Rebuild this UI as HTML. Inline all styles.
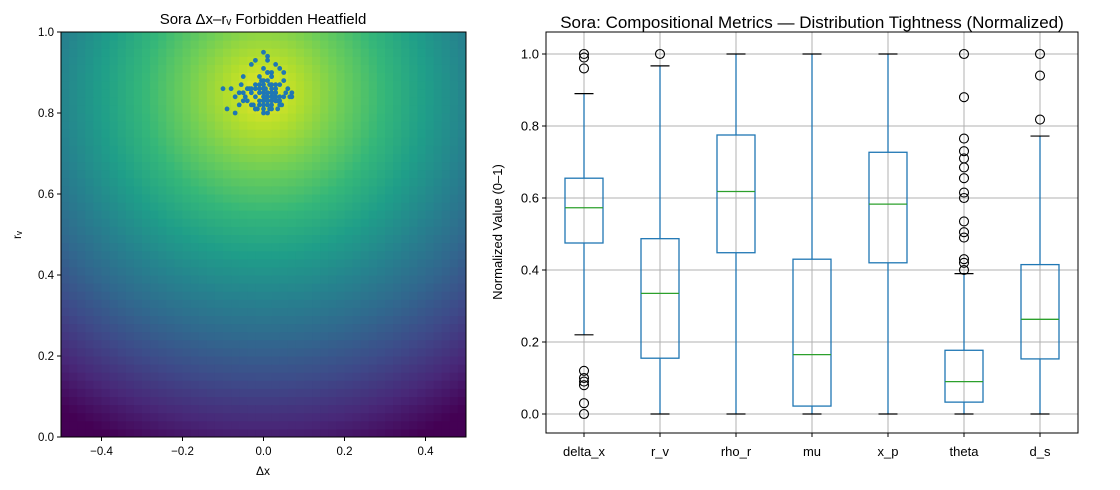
<!DOCTYPE html>
<html><head><meta charset="utf-8"><style>
body{margin:0;background:#fff}
svg{display:block;font-family:"Liberation Sans","DejaVu Sans",sans-serif}
</style></head><body>
<svg id="chart" width="1120" height="490" viewBox="0 0 1120 490" xmlns="http://www.w3.org/2000/svg">
<g id="heat"></g>
<g id="pts"></g>
<rect x="61" y="32" width="405" height="405" fill="none" stroke="#000" stroke-width="1"/>
<g id="lticks" font-size="11.5"></g>
<text x="263" y="24" text-anchor="middle" font-size="15">Sora Δx–rᵥ Forbidden Heatfield</text>
<text x="263" y="475" text-anchor="middle" font-size="12">Δx</text>
<text x="21" y="235" text-anchor="middle" font-size="12" transform="rotate(-90 21 235)">rᵥ</text>
<g id="grid"></g>
<g id="boxes"></g>
<rect x="546" y="32" width="532" height="401" fill="none" stroke="#000" stroke-width="1"/>
<g id="rticks" font-size="13"></g>
<text x="812" y="28" text-anchor="middle" font-size="17">Sora: Compositional Metrics — Distribution Tightness (Normalized)</text>
<text x="502" y="232" text-anchor="middle" font-size="13" transform="rotate(-90 502 232)">Normalized Value (0–1)</text>
</svg>
<script>
const ptsX=[0.01,-0.02,0.03,0.0,0.02,-0.01,0.04,-0.03,0.01,0.0,0.02,-0.04,0.05,-0.05,0.03,0.01,-0.02,0.0,0.02,-0.01,0.06,-0.06,0.03,-0.03,0.0,0.01,0.02,-0.02,0.04,-0.04,0.01,0.0,-0.01,0.03,0.02,-0.07,0.07,-0.08,0.05,-0.05,0.0,0.01,0.02,0.03,-0.01,-0.02,0.04,0.0,0.01,-0.03,0.02,0.03,-0.1,-0.09,0.065,0.07,-0.06,0.0,0.01,0.02,-0.015,0.035,-0.025,0.015,0.005,-0.005,0.045,-0.045,0.025,0.0,0.01,-0.01,0.02,0.03,-0.02,0.04,0.0,0.01,0.005,-0.035,0.055,-0.055,0.015,0.02,0.0,0.03,-0.01,0.01,0.04,-0.02,0.0,0.025,-0.03,0.035,0.01,-0.05,0.05,-0.07,0.0,0.02];
const ptsY=[0.94,0.93,0.92,0.91,0.90,0.89,0.91,0.92,0.88,0.87,0.87,0.86,0.88,0.85,0.86,0.85,0.86,0.84,0.84,0.83,0.86,0.85,0.83,0.82,0.82,0.82,0.81,0.81,0.82,0.83,0.80,0.81,0.85,0.85,0.83,0.84,0.84,0.86,0.9,0.89,0.95,0.93,0.89,0.84,0.87,0.84,0.83,0.86,0.85,0.86,0.85,0.87,0.86,0.81,0.84,0.85,0.82,0.83,0.84,0.82,0.81,0.81,0.82,0.87,0.86,0.88,0.82,0.84,0.84,0.88,0.90,0.86,0.89,0.85,0.87,0.87,0.80,0.83,0.84,0.86,0.85,0.87,0.81,0.86,0.85,0.83,0.82,0.9,0.84,0.81,0.83,0.84,0.85,0.83,0.83,0.83,0.84,0.8,0.86,0.85];
const cats=["delta_x","r_v","rho_r","mu","x_p","theta","d_s"];
const wLo=[0.22,0,0,0,0,0,0];
const q1=[0.475,0.155,0.448,0.022,0.42,0.033,0.153];
const med=[0.573,0.335,0.618,0.165,0.583,0.09,0.263];
const q3=[0.655,0.487,0.775,0.43,0.727,0.177,0.415];
const wHi=[0.89,0.967,1,1,1,0.39,0.772];
const fliers=[[1,0.99,0.96,0.12,0.10,0.09,0.08,0.03,0],[1],[],[],[],[0.40,0.42,0.43,0.49,0.505,0.535,0.60,0.615,0.655,0.685,0.71,0.73,0.765,0.88,1],[0.818,0.94,1]];
const lxTicks=[-0.4,-0.2,0.0,0.2,0.4];
const lyTicks=[0.0,0.2,0.4,0.6,0.8,1.0];
const ryTicks=[0.0,0.2,0.4,0.6,0.8,1.0];
const NS="http://www.w3.org/2000/svg";
function mk(t,a,p){const e=document.createElementNS(NS,t);for(const k in a)e.setAttribute(k,a[k]);p.appendChild(e);return e;}
const lx=v=>61+(v+0.5)*405, ly=v=>437-v*405;
const rx=i=>546+(i+0.5)*76, ry=v=>414-v*360;
const vir=[[68,1,84],[72,40,120],[62,74,137],[49,104,142],[38,130,142],[31,158,137],[53,183,121],[110,206,88],[181,222,43],[253,231,37]];
function cmap(t){t=Math.max(0,Math.min(1,t))*9;const i=Math.min(8,Math.floor(t)),f=t-i;const a=vir[i],b=vir[i+1];return `rgb(${a.map((c,k)=>Math.round(c+(b[k]-c)*f)).join(',')})`;}
const heat=document.getElementById('heat');const N=50;const vals=[];let mn=1e9,mx=-1e9;
for(let j=0;j<N;j++)for(let i=0;i<N;i++){const x=-0.5+(i+0.5)/N,y=(j+0.5)/N;const d=Math.sqrt(x*x+(y-0.85)*(y-0.85));const v=Math.max(0,1-1.08*d);vals.push([i,j,v]);mn=Math.min(mn,v);mx=Math.max(mx,v);}
vals.forEach(([i,j,v])=>{const r=mk('rect',{x:61+i*405/N,y:437-(j+1)*405/N,width:405/N+0.5,height:405/N+0.5,fill:cmap((v-mn)/(mx-mn)*0.97)},heat);

});
const pts=document.getElementById('pts');
ptsX.forEach((x,k)=>{const c=mk('circle',{cx:lx(x),cy:ly(ptsY[k]),r:2.4,fill:'#1f77b4'},pts);

});
const lt=document.getElementById('lticks');
lxTicks.forEach(v=>{mk('line',{x1:lx(v),x2:lx(v),y1:437,y2:441,stroke:'#000'},lt);const t=mk('text',{x:lx(v),y:455,'text-anchor':'middle'},lt);t.textContent=(v<0?'−':'')+Math.abs(v).toFixed(1);

});
lyTicks.forEach(v=>{mk('line',{x1:57,x2:61,y1:ly(v),y2:ly(v),stroke:'#000'},lt);const t=mk('text',{x:54,y:ly(v)+4,'text-anchor':'end'},lt);t.textContent=v.toFixed(1);

});
const g=document.getElementById('grid'),rt=document.getElementById('rticks');
ryTicks.forEach(v=>{mk('line',{x1:546,x2:1078,y1:ry(v),y2:ry(v),stroke:'#b0b0b0','stroke-width':1},g);mk('line',{x1:542,x2:546,y1:ry(v),y2:ry(v),stroke:'#000'},rt);const t=mk('text',{x:539,y:ry(v)+4.5,'text-anchor':'end'},rt);t.textContent=v.toFixed(1);

});
cats.forEach((c,i)=>{mk('line',{x1:rx(i),x2:rx(i),y1:32,y2:433,stroke:'#b0b0b0','stroke-width':1},g);mk('line',{x1:rx(i),x2:rx(i),y1:433,y2:437,stroke:'#000'},rt);const t=mk('text',{x:rx(i),y:456,'text-anchor':'middle'},rt);t.textContent=c;

});
const bx=document.getElementById('boxes');
cats.forEach((c,i)=>{const gg=mk('g',{},bx);


const x=rx(i),hw=19,cw=9.5,B='#1f77b4';
mk('line',{x1:x,x2:x,y1:ry(q3[i]),y2:ry(wHi[i]),stroke:B,'stroke-width':1.3},gg);
mk('line',{x1:x,x2:x,y1:ry(q1[i]),y2:ry(wLo[i]),stroke:B,'stroke-width':1.3},gg);
mk('line',{x1:x-cw,x2:x+cw,y1:ry(wHi[i]),y2:ry(wHi[i]),stroke:'#000','stroke-width':1.2},gg);
mk('line',{x1:x-cw,x2:x+cw,y1:ry(wLo[i]),y2:ry(wLo[i]),stroke:'#000','stroke-width':1.2},gg);
mk('rect',{x:x-hw,y:ry(q3[i]),width:2*hw,height:ry(q1[i])-ry(q3[i]),fill:'none',stroke:B,'stroke-width':1.3},gg);
mk('line',{x1:x-hw,x2:x+hw,y1:ry(med[i]),y2:ry(med[i]),stroke:'#2ca02c','stroke-width':1.3},gg);
fliers[i].forEach(f=>{mk('circle',{cx:x,cy:ry(f),r:4.5,fill:'none',stroke:'#000','stroke-width':1.1},gg);});});
</script>
</body></html>
